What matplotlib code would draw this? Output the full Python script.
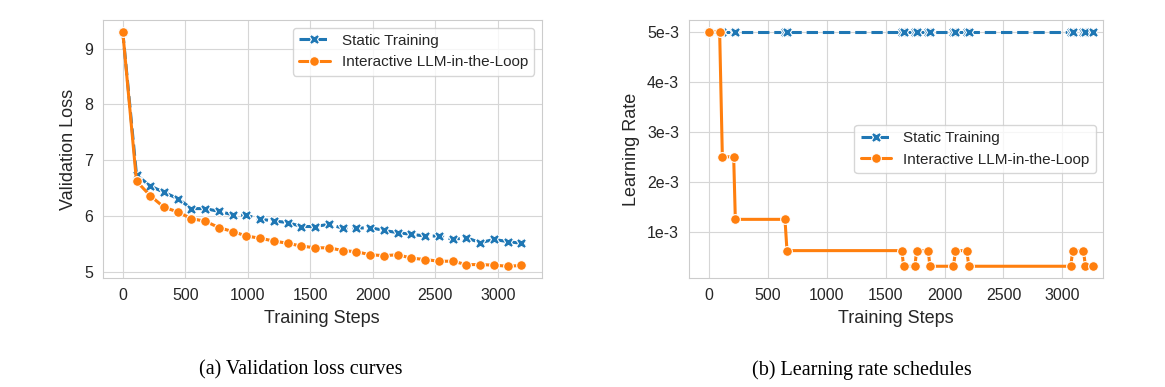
import matplotlib
matplotlib.use("Agg")
import matplotlib.pyplot as plt
import seaborn as sns

# krzywe walidacyjne (lewy wykres)
loss_steps = [0, 110, 220, 330, 440, 550, 660, 770, 880, 990,
              1100, 1210, 1320, 1430, 1540, 1650, 1760, 1870, 1980, 2090,
              2200, 2310, 2420, 2530, 2640, 2750, 2860, 2970, 3080, 3190]
static_loss = [9.30, 6.74, 6.545, 6.43, 6.32, 6.14, 6.14, 6.09, 6.03, 6.02,
               5.95, 5.92, 5.89, 5.82, 5.82, 5.86, 5.79, 5.79, 5.80, 5.75,
               5.71, 5.68, 5.65, 5.65, 5.59, 5.62, 5.53, 5.59, 5.55, 5.52]
interactive_loss = [9.30, 6.63, 6.37, 6.165, 6.08, 5.96, 5.915, 5.80, 5.73, 5.65,
                    5.61, 5.56, 5.52, 5.47, 5.44, 5.44, 5.39, 5.37, 5.315, 5.30,
                    5.315, 5.255, 5.23, 5.20, 5.20, 5.14, 5.14, 5.13, 5.11, 5.125]

# harmonogram learning rate (prawy wykres)
lr_steps = [0, 93, 116, 212, 226, 647, 664, 1638, 1653, 1749, 1763,
            1862, 1876, 2076, 2093, 2189, 2206, 3070, 3087, 3178, 3195, 3257]
static_lr = [5e-3, 5e-3, 5e-3, 5e-3, 5e-3, 5e-3, 5e-3, 5e-3, 5e-3, 5e-3, 5e-3,
             5e-3, 5e-3, 5e-3, 5e-3, 5e-3, 5e-3, 5e-3, 5e-3, 5e-3, 5e-3, 5e-3]
interactive_lr = [5e-3, 5e-3, 2.5e-3, 2.5e-3, 1.25e-3, 1.25e-3, 6.25e-4, 6.25e-4,
                  3.125e-4, 3.125e-4, 6.25e-4, 6.25e-4, 3.125e-4, 3.125e-4,
                  6.25e-4, 6.25e-4, 3.125e-4, 3.125e-4, 6.25e-4, 6.25e-4,
                  3.125e-4, 3.125e-4]
lr_ticks = [1e-3, 2e-3, 3e-3, 4e-3, 5e-3]
lr_tick_labels = ["1e-3", "2e-3", "3e-3", "4e-3", "5e-3"]

LABELS = ["Static Training", "Interactive LLM-in-the-Loop"]
BLUE = "#1f77b4"
ORANGE = "#ff7f0e"

sns.set_style("whitegrid")
plt.rcParams["font.family"] = ["Liberation Sans", "DejaVu Sans"]
plt.rcParams["axes.edgecolor"] = "#cccccc"
plt.rcParams["grid.color"] = "#d6d6d6"


def rysuj(ax, x, y_static, y_inter):
    ax.plot(x, y_static, color=BLUE, linestyle="--", linewidth=2.2,
            marker="X", markersize=7.5, markeredgecolor="white",
            markeredgewidth=0.8, label=LABELS[0], zorder=2)
    ax.plot(x, y_inter, color=ORANGE, linestyle="-", linewidth=2.2,
            marker="o", markersize=7, markeredgecolor="white",
            markeredgewidth=0.8, label=LABELS[1], zorder=3)
    ax.tick_params(labelsize=11.5, pad=7, colors="#262626", length=0)
    ax.set_xlabel("Training Steps", fontsize=13, color="#262626", labelpad=5)
    ax.set_xticks([0, 500, 1000, 1500, 2000, 2500, 3000])


fig = plt.figure(figsize=(11.65, 3.87), dpi=100)

# ==============================================
# WYKRES (a): Validation loss
# ==============================================
ax1 = fig.add_axes([0.0882, 0.2817, 0.3768, 0.6666])
rysuj(ax1, loss_steps, static_loss, interactive_loss)
ax1.set_ylabel("Validation Loss", fontsize=13, color="#262626", labelpad=5)
ax1.set_yticks([5, 6, 7, 8, 9])
ax1.set_xlim(-160, 3352)
ax1.legend(loc="upper right", fontsize=11, frameon=True)

# ==============================================
# WYKRES (b): Learning rate
# ==============================================
ax2 = fig.add_axes([0.5912, 0.2817, 0.3559, 0.6666])
rysuj(ax2, lr_steps, static_lr, interactive_lr)
ax2.set_ylabel("Learning Rate", fontsize=13, color="#262626", labelpad=5)
ax2.set_yticks(lr_ticks)
ax2.set_yticklabels(lr_tick_labels)
ax2.set_xlim(-169, 3347)
ax2.legend(loc="center right", fontsize=11, frameon=True)

fig.text(0.2582, 0.044, "(a) Validation loss curves", ha="center", va="center",
         fontsize=14.5, family=["Liberation Serif", "DejaVu Serif"], color="black")
fig.text(0.7397, 0.044, "(b) Learning rate schedules", ha="center", va="center",
         fontsize=14.5, family=["Liberation Serif", "DejaVu Serif"], color="black")

fig.savefig("out.png", dpi=100)
